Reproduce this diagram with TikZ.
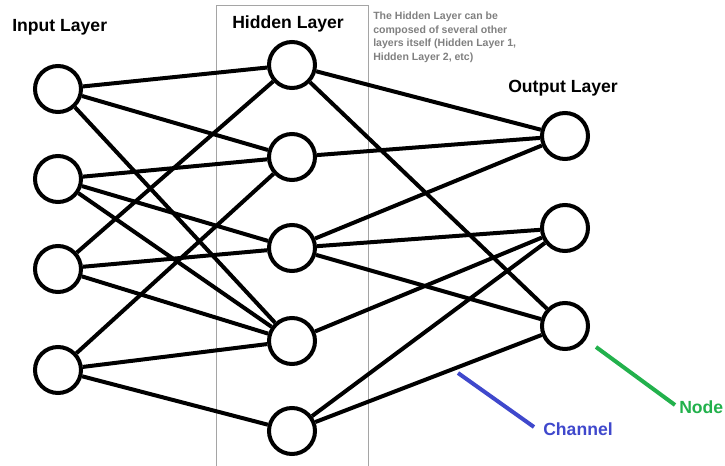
\documentclass[tikz,border=0pt]{standalone}
\usepackage{fontspec}
\setmainfont{Liberation Sans}
\definecolor{paintblue}{RGB}{63,72,204}
\definecolor{paintgreen}{RGB}{34,177,76}
\definecolor{notegray}{RGB}{128,128,128}
\definecolor{boxgray}{RGB}{165,165,165}

\begin{document}
\begin{tikzpicture}[x=0.75pt,y=0.75pt,yscale=-1,xscale=1,
  neuron/.style={draw,circle,line width=3pt,minimum size=34.5pt,inner sep=0pt},
  link/.style={line width=3pt},
  layertitle/.style={anchor=base west,inner sep=0pt,font=\fontsize{13.2}{15}\selectfont\bfseries}]
\useasboundingbox (0,0) rectangle (725,466);

%Shape: Hidden layer frame
\draw [color=boxgray,line width=0.75pt] (216,466) -- (216,6) -- (368,6) -- (368,466) ;

%Shape: Input neurons
\node [neuron] (in1) at (58,89) {};
\node [neuron] (in2) at (58,179) {};
\node [neuron] (in3) at (58,269) {};
\node [neuron] (in4) at (58,370) {};
%Shape: Hidden neurons
\node [neuron] (hid1) at (292,65) {};
\node [neuron] (hid2) at (292,157) {};
\node [neuron] (hid3) at (292,248) {};
\node [neuron] (hid4) at (292,341) {};
\node [neuron] (hid5) at (292,431) {};
%Shape: Output neurons
\node [neuron] (out1) at (565,136) {};
\node [neuron] (out2) at (565,228) {};
\node [neuron] (out3) at (565,326) {};

%Straight Lines: input -> hidden
\draw [link] (in1) -- (hid1) ;
\draw [link] (in1) -- (hid2) ;
\draw [link] (in1) -- (hid4) ;
\draw [link] (in2) -- (hid2) ;
\draw [link] (in2) -- (hid3) ;
\draw [link] (in2) -- (hid4) ;
\draw [link] (in3) -- (hid1) ;
\draw [link] (in3) -- (hid3) ;
\draw [link] (in3) -- (hid4) ;
\draw [link] (in4) -- (hid2) ;
\draw [link] (in4) -- (hid4) ;
\draw [link] (in4) -- (hid5) ;
%Straight Lines: hidden -> output
\draw [link] (hid1) -- (out1) ;
\draw [link] (hid1) -- (out3) ;
\draw [link] (hid2) -- (out1) ;
\draw [link] (hid3) -- (out1) ;
\draw [link] (hid3) -- (out2) ;
\draw [link] (hid3) -- (out3) ;
\draw [link] (hid4) -- (out2) ;
\draw [link] (hid5) -- (out2) ;
\draw [link] (hid5) -- (out3) ;

% Text Node
\node [layertitle] (inlabel) at (12,32) {Input Layer};
% Text Node
\node [layertitle] (hidlabel) at (232,29) {Hidden Layer};
% Text Node
\node [layertitle] (outlabel) at (508,93) {Output Layer};
% Text Node
\node [anchor=north west,inner sep=0pt,align=left,text=notegray,font=\fontsize{7.9}{10.1}\selectfont\bfseries] (note) at (373,12) {The Hidden Layer can be\\composed of several other\\layers itself (Hidden Layer 1,\\Hidden Layer 2, etc)};
% Text Node
\node [layertitle,text=paintblue] (chanlabel) at (543,436) {Channel};
% Text Node
\node [layertitle,text=paintgreen] (nodelabel) at (679,414) {Node};

%Straight Lines: pointers
\coordinate (chanstart) at (458,373) ;
\coordinate (chanend) at (534,427) ;
\coordinate (nodestart) at (596,347) ;
\coordinate (nodeend) at (675,405) ;
\draw [color=paintblue,line width=3pt] (chanstart) -- (chanend) ;
\draw [color=paintgreen,line width=3pt] (nodestart) -- (nodeend) ;

\end{tikzpicture}
\end{document}
